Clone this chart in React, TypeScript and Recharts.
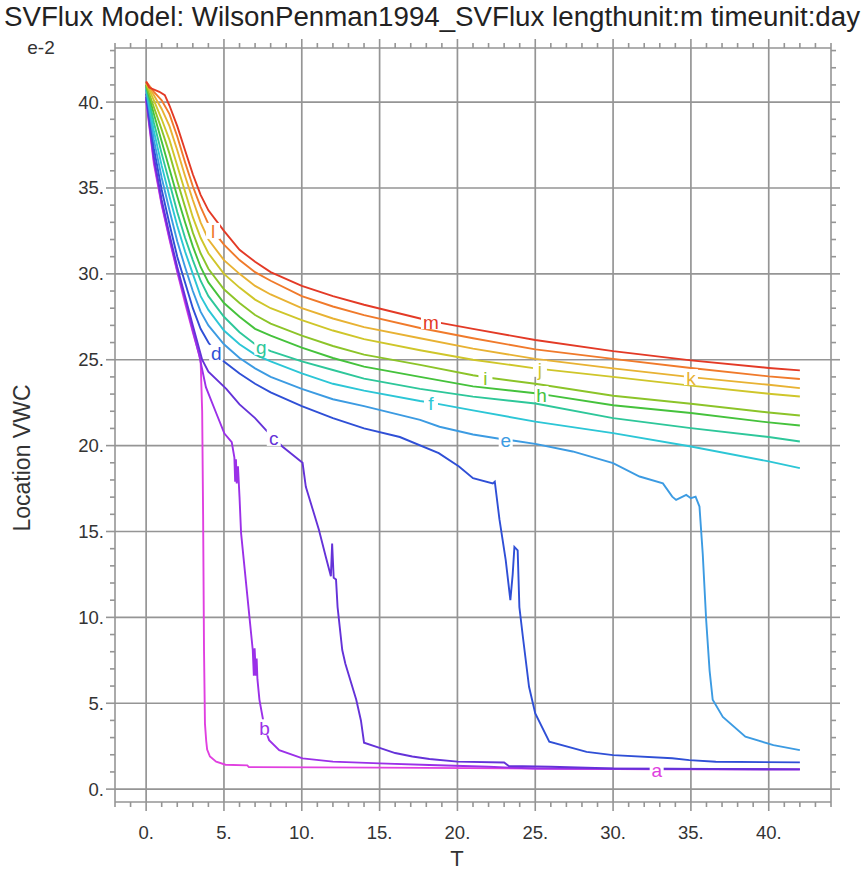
import React from "react";
import { LineChart, Line, XAxis, YAxis, ReferenceLine } from "recharts";

type Pt = [number, number];

const TITLE = "SVFlux Model: WilsonPenman1994_SVFlux lengthunit:m timeunit:day";
const X_TITLE = "T";
const Y_TITLE = "Location VWC";
const Y_EXPONENT = "e-2";

const X_TICK_LABELS = [0, 5, 10, 15, 20, 25, 30, 35, 40];
const Y_TICK_LABELS = [0, 5, 10, 15, 20, 25, 30, 35, 40];
const X_DOMAIN: [number, number] = [-2, 44];
const Y_DOMAIN: [number, number] = [-0.75, 43.15];
// every whole unit gets a small tick
const X_MINOR = Array.from({ length: 47 }, (_, i) => i - 2);
const Y_MINOR = Array.from({ length: 44 }, (_, i) => i);

// [time, VWC e-2]
const A_PTS: Pt[] = [
  [0, 40.1], [0.5, 36.4], [1, 34.0], [1.5, 32.0], [2, 30.1], [2.5, 28.3], [3, 26.6],
  [3.5, 25.0], [3.6, 22.0], [3.66, 16.0], [3.72, 8.0], [3.78, 3.8], [3.86, 2.8],
  [3.92, 2.3], [4.1, 1.9], [4.5, 1.6], [5.1, 1.42], [6.5, 1.38], [6.6, 1.28],
  [15, 1.25], [25, 1.2], [32.8, 1.15], [42, 1.15],
];
const B_PTS: Pt[] = [
  [0, 40.2], [0.5, 36.6], [1, 34.1], [1.5, 32.1], [2, 30.2], [2.5, 28.5], [3, 26.7],
  [3.4, 25.3], [3.84, 23.4], [4.5, 21.9], [5.03, 20.7], [5.5, 20.2], [5.67, 19.3],
  [5.72, 17.9], [5.77, 19.2], [5.82, 17.8], [5.9, 18.8], [6.0, 17.0], [6.1, 14.9],
  [6.64, 10.0], [6.85, 8.1], [6.92, 6.6], [6.97, 8.2], [7.05, 6.6], [7.1, 7.6],
  [7.15, 6.4], [7.28, 5.2], [7.6, 3.6], [7.9, 2.85], [8.55, 2.27], [10.05, 1.79],
  [12, 1.6], [15, 1.5], [18.2, 1.4], [22, 1.3], [25, 1.2], [42, 1.15],
];
const C_PTS: Pt[] = [
  [0, 40.3], [0.5, 36.8], [1, 34.3], [1.5, 32.3], [2, 30.4], [2.5, 28.7], [3, 27.0],
  [3.6, 25.0], [4, 24.3], [5.15, 23.3], [6, 22.4], [7, 21.6], [7.7, 20.9], [8.2, 20.45],
  [8.75, 19.95], [10.05, 19.0], [10.26, 17.6], [10.7, 16.3], [11.1, 15.1], [11.55, 13.5],
  [11.87, 12.4], [11.95, 14.3], [12.05, 12.3], [12.2, 12.2], [12.3, 10.6], [12.6, 8.1],
  [12.8, 7.3], [13.5, 5.2], [13.8, 4.0], [14.0, 2.7], [15, 2.4], [16, 2.1], [17.1, 1.9],
  [18.2, 1.75], [20, 1.6], [23, 1.55], [23.3, 1.35], [26, 1.3], [30, 1.2], [42, 1.15],
];
const D_PTS: Pt[] = [
  [0, 40.5], [0.5, 37.3], [1, 34.9], [1.5, 32.9], [2, 31.0], [2.5, 29.5], [3, 28.0],
  [3.5, 26.8], [4, 26.0], [4.5, 25.4], [5, 24.9], [6, 24.2], [7, 23.6], [8, 23.1],
  [10, 22.3], [12, 21.6], [14, 21.0], [16.3, 20.5], [18.8, 19.56], [20.1, 18.78],
  [21, 18.1], [22.27, 17.8], [22.4, 17.9], [22.7, 15.7], [23.1, 13.35], [23.4, 11.0],
  [23.55, 12.5], [23.66, 14.1], [23.87, 13.9], [23.98, 10.6], [24.2, 8.9], [24.6, 5.96],
  [25.0, 4.4], [25.9, 2.76], [28.3, 2.17], [30, 1.98], [33.8, 1.8], [34.9, 1.69],
  [36.6, 1.59], [42, 1.56],
];
const E_PTS: Pt[] = [
  [0, 40.7], [0.5, 37.8], [1, 35.6], [1.5, 33.7], [2, 31.9], [2.5, 30.4], [3, 29.0],
  [3.5, 27.8], [4, 27.0], [5, 25.9], [6, 25.1], [7, 24.5], [8, 24.0], [10, 23.3],
  [12, 22.7], [14, 22.3], [17.6, 21.5], [18.85, 21.1], [21, 20.65], [22.7, 20.4],
  [23.1, 20.35], [23.55, 20.3], [25, 20.1], [27.4, 19.66], [30, 18.98], [31.7, 18.2],
  [33.2, 17.8], [33.8, 17.03], [34.05, 16.84], [34.7, 17.13], [35.0, 16.94], [35.3, 17.03],
  [35.55, 16.45], [35.76, 13.7], [35.98, 9.85], [36.2, 6.9], [36.4, 5.2], [37.05, 4.2],
  [38.5, 3.05], [40.3, 2.56], [42, 2.27],
];
const F_PTS: Pt[] = [
  [0, 40.8], [0.5, 38.3], [1, 36.3], [1.5, 34.5], [2, 32.8], [2.5, 31.3], [3, 30.0],
  [3.5, 28.7], [4, 27.9], [5, 26.7], [6, 25.9], [7, 25.3], [8, 24.9], [10, 24.2],
  [12, 23.6], [14, 23.2], [17.6, 22.6], [18.3, 22.5], [21, 22.05], [25, 21.4],
  [30, 20.73], [35, 19.95], [40, 19.08], [42, 18.69],
];
const G_PTS: Pt[] = [
  [0, 40.9], [0.5, 38.8], [1, 37.0], [1.5, 35.3], [2, 33.6], [2.5, 32.1], [3, 30.8],
  [3.5, 29.6], [4, 28.7], [5, 27.5], [6, 26.6], [7, 25.9], [7.4, 25.75], [8, 25.5],
  [10, 24.9], [12, 24.4], [14, 23.9], [17.6, 23.3], [21, 22.85], [25, 22.45],
  [30, 21.6], [35, 21.02], [40, 20.5], [42, 20.24],
];
const H_PTS: Pt[] = [
  [0, 41.0], [0.5, 39.3], [1, 37.7], [1.5, 36.1], [2, 34.5], [2.5, 33.0], [3, 31.6],
  [3.5, 30.4], [4, 29.5], [5, 28.3], [6, 27.5], [7, 26.8], [8, 26.4], [10, 25.7],
  [12, 25.1], [14, 24.6], [17.6, 24.0], [21, 23.45], [25, 23.05], [25.4, 23.0],
  [30, 22.35], [35, 21.9], [40, 21.35], [42, 21.17],
];
const I_PTS: Pt[] = [
  [0, 41.0], [0.5, 39.7], [1, 38.4], [1.5, 37.0], [2, 35.4], [2.5, 33.9], [3, 32.4],
  [3.5, 31.2], [4, 30.3], [5, 29.1], [6, 28.3], [7, 27.6], [8, 27.1], [10, 26.4],
  [12, 25.8], [14, 25.3], [17.6, 24.7], [21, 24.1], [21.8, 23.98], [25, 23.6],
  [30, 22.9], [35, 22.44], [40, 21.93], [42, 21.75],
];
const J_PTS: Pt[] = [
  [0, 41.1], [0.5, 40.1], [1, 39.0], [1.5, 37.8], [2, 36.3], [2.5, 34.8], [3, 33.3],
  [3.5, 32.1], [4, 31.2], [5, 30.0], [6, 29.2], [7, 28.5], [8, 28.0], [10, 27.3],
  [12, 26.7], [14, 26.2], [17.6, 25.55], [21, 25.0], [25, 24.5], [25.3, 24.47],
  [30, 24.0], [35, 23.49], [40, 23.02], [42, 22.86],
];
const K_PTS: Pt[] = [
  [0, 41.1], [0.5, 40.4], [1, 39.6], [1.5, 38.6], [2, 37.2], [2.5, 35.7], [3, 34.3],
  [3.5, 33.0], [4, 32.0], [5, 30.8], [6, 30.0], [7, 29.3], [8, 28.8], [10, 28.0],
  [12, 27.4], [14, 26.9], [17.6, 26.25], [21, 25.65], [25, 25.05], [30, 24.5],
  [35, 23.99], [40, 23.54], [42, 23.35],
];
const L_PTS: Pt[] = [
  [0, 41.2], [0.5, 40.6], [1, 40.1], [1.5, 39.3], [2, 38.0], [2.5, 36.5], [3, 35.1],
  [3.5, 33.9], [4, 32.9], [4.3, 32.5], [5, 31.7], [6, 30.8], [7, 30.1], [8, 29.6],
  [10, 28.7], [12, 28.1], [14, 27.6], [17.6, 26.85], [21, 26.25], [25, 25.6],
  [30, 25.05], [35, 24.52], [40, 24.03], [42, 23.88],
];
const M_PTS: Pt[] = [
  [0, 41.2], [0.2, 40.85], [0.85, 40.6], [1.2, 40.4], [1.5, 39.8], [2, 38.6],
  [2.5, 37.2], [3, 35.8], [3.5, 34.6], [4, 33.7], [5, 32.5], [6, 31.4], [7, 30.7],
  [8, 30.1], [10, 29.3], [12, 28.7], [14, 28.2], [17.6, 27.4], [18.3, 27.25],
  [21, 26.8], [25, 26.15], [30, 25.5], [35, 24.96], [40, 24.52], [42, 24.38],
];

const NAMES = ["a", "b", "c", "d", "e", "f", "g", "h", "i", "j", "k", "l", "m"];
const POINTS = [A_PTS, B_PTS, C_PTS, D_PTS, E_PTS, F_PTS, G_PTS, H_PTS, I_PTS, J_PTS, K_PTS, L_PTS, M_PTS];
// time at which each curve carries its letter
const LABEL_T = [32.8, 7.6, 8.2, 4.5, 23.1, 18.3, 7.4, 25.4, 21.8, 25.3, 35, 4.3, 18.3];
const COLORS = [
  "#e040e0", "#9b30e8", "#6432d8", "#2f4fd6", "#3c9be2", "#2cc6d6", "#2ec79a",
  "#45c23c", "#8cc429", "#cfc62a", "#e8b233", "#f07a2b", "#e33a26",
];

const GRID = "#959595";
const TEXT = "#333333";
const FONT = "'Liberation Sans', Arial, sans-serif";

const makeTick = (side: "bottom" | "top" | "left" | "right") => (props: any) => {
  const { x, y, payload } = props;
  const v = payload.value as number;
  const major = v % 5 === 0 && v >= 0 && v <= 40;
  const len = major ? 9 : 5;
  const lineProps = { stroke: GRID, strokeWidth: 1.6 };
  if (side === "bottom") {
    return (
      <g>
        <line x1={x} y1={y} x2={x} y2={y + len} {...lineProps} />
        {major && (
          <text x={x} y={y + 30} textAnchor="middle" dominantBaseline="central" fill={TEXT} fontSize={18.5} fontFamily={FONT}>
            {`${v}.`}
          </text>
        )}
      </g>
    );
  }
  if (side === "top") {
    return <line x1={x} y1={y} x2={x} y2={y - len} {...lineProps} />;
  }
  if (side === "left") {
    return (
      <g>
        <line x1={x} y1={y} x2={x - len} y2={y} {...lineProps} />
        {major && (
          <text x={x - 11} y={y} textAnchor="end" dominantBaseline="central" fill={TEXT} fontSize={18.5} fontFamily={FONT}>
            {`${v}.`}
          </text>
        )}
      </g>
    );
  }
  return <line x1={x} y1={y} x2={x + len} y2={y} {...lineProps} />;
};

const makeLetter = (name: string, color: string, idx: number) => (props: any) => {
  if (props.index !== idx) return null;
  const { x, y } = props;
  const w = name === "m" ? 20 : 14;
  return (
    <g>
      <rect x={x - w / 2} y={y - 8} width={w} height={16} fill="#ffffff" />
      <text x={x} y={y + 1} textAnchor="middle" dominantBaseline="central" fill={color} fontSize={19} fontFamily={FONT}>
        {name}
      </text>
    </g>
  );
};

export default function App() {
  const series = NAMES.map((name, i) => {
    const data = POINTS[i].map(([t, v]) => ({ t, v }));
    const idx = POINTS[i].findIndex(([t]) => t === LABEL_T[i]);
    return { name, data, idx, color: COLORS[i] };
  });

  return (
    <div style={{ position: "absolute", left: 0, top: 0, width: 865, height: 884, background: "#ffffff" }}>
      <LineChart width={865} height={884} margin={{ top: 28, right: 14, bottom: 22, left: 0 }}>
        <XAxis
          xAxisId="bottom"
          orientation="bottom"
          type="number"
          dataKey="t"
          domain={X_DOMAIN}
          allowDataOverflow
          ticks={X_MINOR}
          interval={0}
          tick={makeTick("bottom")}
          tickLine={false}
          tickSize={0}
          tickMargin={0}
          axisLine={{ stroke: GRID, strokeWidth: 1.6 }}
          height={60}
        />
        <XAxis
          xAxisId="top"
          orientation="top"
          type="number"
          dataKey="t"
          domain={X_DOMAIN}
          allowDataOverflow
          ticks={X_MINOR}
          interval={0}
          tick={makeTick("top")}
          tickLine={false}
          tickSize={0}
          tickMargin={0}
          axisLine={{ stroke: GRID, strokeWidth: 1.6 }}
          height={20}
        />
        <YAxis
          yAxisId="left"
          orientation="left"
          type="number"
          domain={Y_DOMAIN}
          allowDataOverflow
          ticks={Y_MINOR}
          interval={0}
          tick={makeTick("left")}
          tickLine={false}
          tickSize={0}
          tickMargin={0}
          axisLine={{ stroke: GRID, strokeWidth: 1.6 }}
          width={115}
        />
        <YAxis
          yAxisId="right"
          orientation="right"
          type="number"
          domain={Y_DOMAIN}
          allowDataOverflow
          ticks={Y_MINOR}
          interval={0}
          tick={makeTick("right")}
          tickLine={false}
          tickSize={0}
          tickMargin={0}
          axisLine={{ stroke: GRID, strokeWidth: 1.6 }}
          width={20}
        />
        {X_TICK_LABELS.map((v) => (
          <ReferenceLine key={`gx${v}`} x={v} xAxisId="bottom" yAxisId="left" stroke={GRID} strokeWidth={1.7} />
        ))}
        {Y_TICK_LABELS.map((v) => (
          <ReferenceLine key={`gy${v}`} y={v} xAxisId="bottom" yAxisId="left" stroke={GRID} strokeWidth={1.7} />
        ))}
        {series.map((s) => (
          <Line
            key={s.name}
            data={s.data}
            dataKey="v"
            name={s.name}
            xAxisId="bottom"
            yAxisId="left"
            type="linear"
            stroke={s.color}
            strokeWidth={1.9}
            dot={false}
            activeDot={false}
            isAnimationActive={false}
            label={makeLetter(s.name, s.color, s.idx)}
          />
        ))}
      </LineChart>
      <svg width={865} height={884} style={{ position: "absolute", left: 0, top: 0, pointerEvents: "none" }}>
        <text x={432} y={17} textAnchor="middle" dominantBaseline="central" fill="#222222" fontSize={27} fontFamily={FONT} textLength={856} lengthAdjust="spacingAndGlyphs">
          {TITLE}
        </text>
        <text x={41} y={47} textAnchor="middle" dominantBaseline="central" fill={TEXT} fontSize={19} fontFamily={FONT}>
          {Y_EXPONENT}
        </text>
        <text x={22} y={458} textAnchor="middle" dominantBaseline="central" fill={TEXT} fontSize={23} fontFamily={FONT} transform="rotate(-90 22 458)">
          {Y_TITLE}
        </text>
        <text x={457} y={858} textAnchor="middle" dominantBaseline="central" fill={TEXT} fontSize={22} fontFamily={FONT}>
          {X_TITLE}
        </text>
      </svg>
    </div>
  );
}
